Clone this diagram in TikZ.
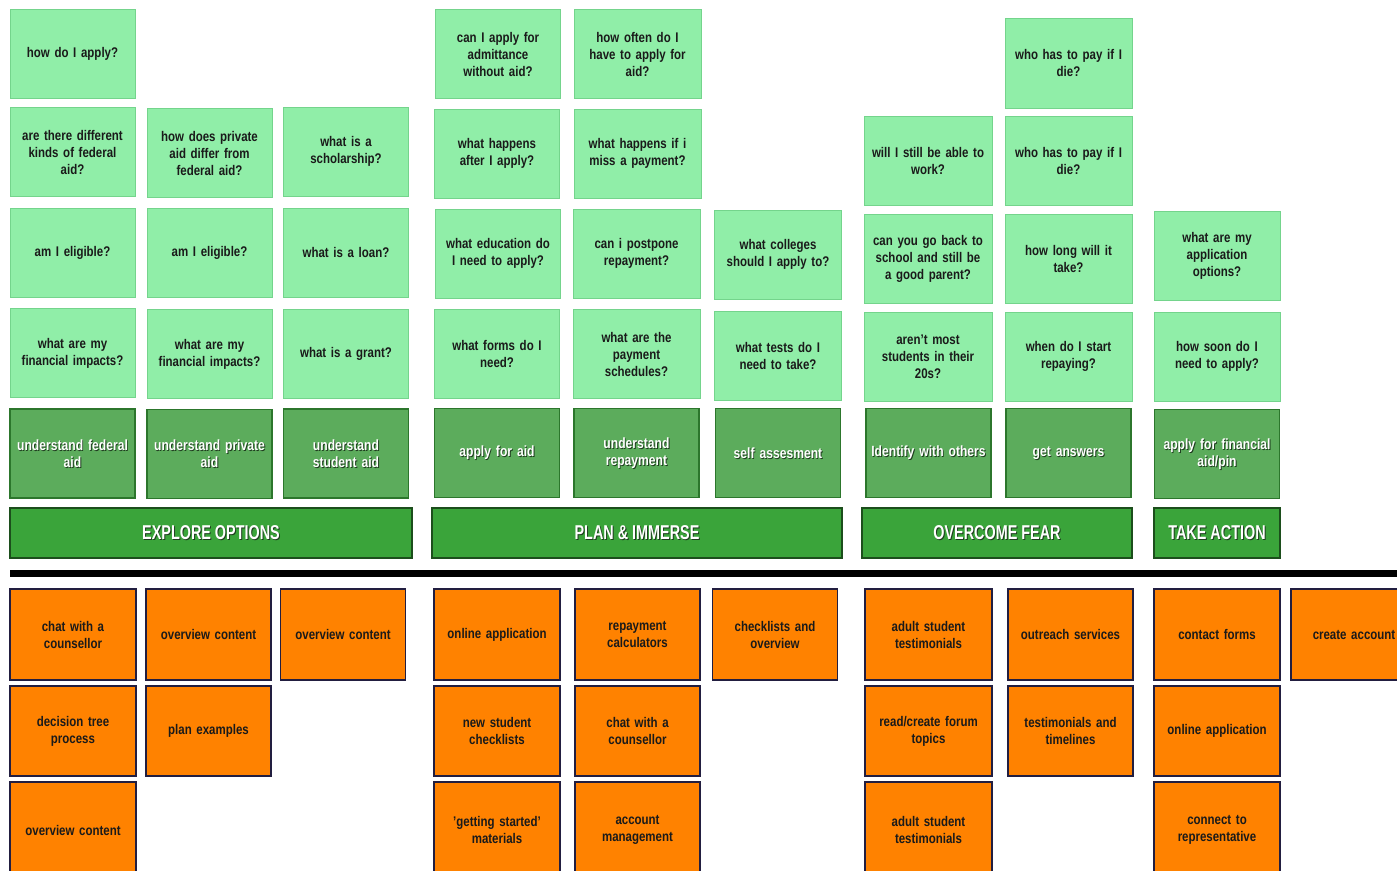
\documentclass[tikz,border=0pt]{standalone}
\usepackage{fontspec}
\setmainfont{Liberation Sans}[FakeStretch=0.82]
\newfontfamily\hdfont{Liberation Sans}[FakeStretch=0.72]

\definecolor{qfill}{RGB}{144,238,168}
\definecolor{qedge}{RGB}{116,212,140}
\definecolor{dfill}{RGB}{92,172,92}
\definecolor{dedge}{RGB}{44,118,44}
\definecolor{hfill}{RGB}{58,164,58}
\definecolor{hedge}{RGB}{28,78,28}
\definecolor{ofill}{RGB}{255,130,0}
\definecolor{oedge}{RGB}{34,30,64}
\definecolor{ink}{RGB}{26,26,26}
\definecolor{shade}{RGB}{30,60,30}

\tikzset{
  card/.style={rectangle, minimum width=125, minimum height=89, inner sep=2,
    text width=121, align=center, font=\bfseries\fontsize{14}{17}\selectfont},
  qcard/.style={card, fill=qfill, draw=qedge, line width=1, text=ink},
  dcard/.style={card, fill=dfill, draw=dedge, line width=1.4},
  dtext/.style={card, inner sep=0, text width=126, font=\bfseries\fontsize{14.8}{17}\selectfont},
  ocard/.style={card, minimum height=91, fill=ofill, draw=oedge, line width=1.6, text=ink},
  hbar/.style={rectangle, minimum height=50, inner sep=0, fill=hfill, draw=hedge, line width=1.4},
  htext/.style={inner sep=0, font=\hdfont\bfseries\fontsize{20}{22}\selectfont},
}

% dark step card with shadowed white caption
\newcommand\stepcard[4]{%
  \node[dcard] (#1) at (#2,#3) {};
  \node[dtext, text=shade] at ([xshift=0.9pt,yshift=-0.9pt]#1.center) {#4};
  \node[dtext, text=white] (#1t) at (#1.center) {#4};
}
% phase header bar with shadowed caption
\newcommand\phase[5]{%
  \node[hbar, minimum width=#4] (#1) at (#2,#3) {};
  \node[htext, text=shade] at ([xshift=1pt,yshift=-1pt]#1.center) {#5};
  \node[htext, text=white] (#1t) at (#1.center) {#5};
}

\begin{document}
\begin{tikzpicture}[x=1pt, y=-1pt]
\useasboundingbox (0,0) rectangle (1397,870);
\clip (0,0) rectangle (1397,870);
\fill[white] (0,0) rectangle (1397,870);

% ---- questions: explore options
\node[qcard] (q11) at (72.5,53.5) {how do I apply?};
\node[qcard] (q12) at (72.5,152) {are there different\\kinds of federal\\aid?};
\node[qcard] (q22) at (209.5,153) {how does private\\aid differ from\\federal aid?};
\node[qcard] (q32) at (346,151.5) {what is a\\scholarship?};
\node[qcard] (q13) at (72.5,252.5) {am I eligible?};
\node[qcard] (q23) at (209.5,253) {am I eligible?};
\node[qcard] (q33) at (346,252.5) {what is a loan?};
\node[qcard] (q14) at (72.5,353) {what are my\\financial impacts?};
\node[qcard] (q24) at (209.5,354) {what are my\\financial impacts?};
\node[qcard] (q34) at (346,353.5) {what is a grant?};

% ---- questions: plan & immerse
\node[qcard] (q41) at (498,54) {can I apply for\\admittance\\without aid?};
\node[qcard] (q42) at (497,153.5) {what happens\\after I apply?};
\node[qcard] (q43) at (498,253.5) {what education do\\I need to apply?};
\node[qcard] (q44) at (497,354) {what forms do I\\need?};
\node[qcard, minimum width=127] (q51) at (637.5,54) {how often do I\\have to apply for\\aid?};
\node[qcard, minimum width=127] (q52) at (637.5,153.5) {what happens if i\\miss a payment?};
\node[qcard, minimum width=127] (q53) at (636.5,253.5) {can i postpone\\repayment?};
\node[qcard, minimum width=127] (q54) at (636.5,354) {what are the\\payment\\schedules?};
\node[qcard, minimum width=127] (q63) at (778,254.5) {what colleges\\should I apply to?};
\node[qcard, minimum width=127] (q64) at (778,355.5) {what tests do I\\need to take?};

% ---- questions: overcome fear
\node[qcard, minimum width=128] (q72) at (928,160.5) {will I still be able to\\work?};
\node[qcard, minimum width=128] (q73) at (928,258.5) {can you go back to\\school and still be\\a good parent?};
\node[qcard, minimum width=128] (q74) at (928,356.5) {aren't most\\students in their\\20s?};
\node[qcard, minimum width=127, minimum height=90] (q81) at (1068.5,63) {who has to pay if I\\die?};
\node[qcard, minimum width=127] (q82) at (1068.5,160.5) {who has to pay if I\\die?};
\node[qcard, minimum width=127] (q83) at (1068.5,258.5) {how long will it\\take?};
\node[qcard, minimum width=127] (q84) at (1068.5,356.5) {when do I start\\repaying?};

% ---- questions: take action
\node[qcard, minimum width=126] (q93) at (1217,256) {what are my\\application\\options?};
\node[qcard, minimum width=126] (q94) at (1217,356.5) {how soon do I\\need to apply?};

% ---- steps
\stepcard{d1}{72.5}{453.5}{understand federal\\aid}
\stepcard{d2}{209.5}{454}{understand private\\aid}
\stepcard{d3}{346}{453.5}{understand\\student aid}
\stepcard{d4}{497}{453}{apply for aid}
\stepcard{d5}{636.5}{453}{understand\\repayment}
\stepcard{d6}{778}{453}{self assesment}
\stepcard{d7}{928.5}{453}{Identify with others}
\stepcard{d8}{1068.5}{453}{get answers}
\stepcard{d9}{1217}{454}{apply for financial\\aid/pin}

% ---- phases
\phase{h1}{211}{533}{402}{EXPLORE OPTIONS}
\phase{h2}{637}{533}{410}{PLAN \& IMMERSE}
\phase{h3}{997}{533}{270}{OVERCOME FEAR}
\phase{h4}{1217}{533}{126}{TAKE ACTION}

% ---- divider
\coordinate (barL) at (10,573.5);
\coordinate (barR) at (1400,573.5);
\draw[line width=7] (barL) -- (barR);

% ---- content touchpoints
\node[ocard, minimum width=126] (o11) at (73,634.5) {chat with a\\counsellor};
\node[ocard] (o21) at (208.5,634.5) {overview content};
\node[ocard, minimum width=124] (o31) at (343,634.5) {overview content};
\node[ocard, minimum width=126, minimum height=90] (o12) at (73,731) {decision tree\\process};
\node[ocard, minimum height=90] (o22) at (208.5,731) {plan examples};
\node[ocard, minimum width=126, minimum height=96] (o13) at (73,830) {overview content};

\node[ocard, minimum width=126] (o41) at (497,634.5) {online application};
\node[ocard] (o51) at (637.5,634.5) {repayment\\calculators};
\node[ocard, minimum width=124] (o61) at (775,634.5) {checklists and\\overview};
\node[ocard, minimum width=126, minimum height=90] (o42) at (497,731) {new student\\checklists};
\node[ocard, minimum height=90] (o52) at (637.5,731) {chat with a\\counsellor};
\node[ocard, minimum width=126, minimum height=96] (o43) at (497,830) {'getting started'\\materials};
\node[ocard, minimum height=96] (o53) at (637.5,830) {account\\management};

\node[ocard, minimum width=127] (o71) at (928.5,634.5) {adult student\\testimonials};
\node[ocard] (o81) at (1070.5,634.5) {outreach services};
\node[ocard, minimum width=127, minimum height=90] (o72) at (928.5,731) {read/create forum\\topics};
\node[ocard, minimum height=90] (o82) at (1070.5,731) {testimonials and\\timelines};
\node[ocard, minimum width=127, minimum height=96] (o73) at (928.5,830) {adult student\\testimonials};

\node[ocard, minimum width=126] (o91) at (1217,634.5) {contact forms};
\node[ocard, minimum width=126] (o101) at (1354,634.5) {create account};
\node[ocard, minimum width=126, minimum height=90] (o92) at (1217,731) {online application};
\node[ocard, minimum width=126, minimum height=96] (o93) at (1217,830) {connect to\\representative};
\end{tikzpicture}
\end{document}
